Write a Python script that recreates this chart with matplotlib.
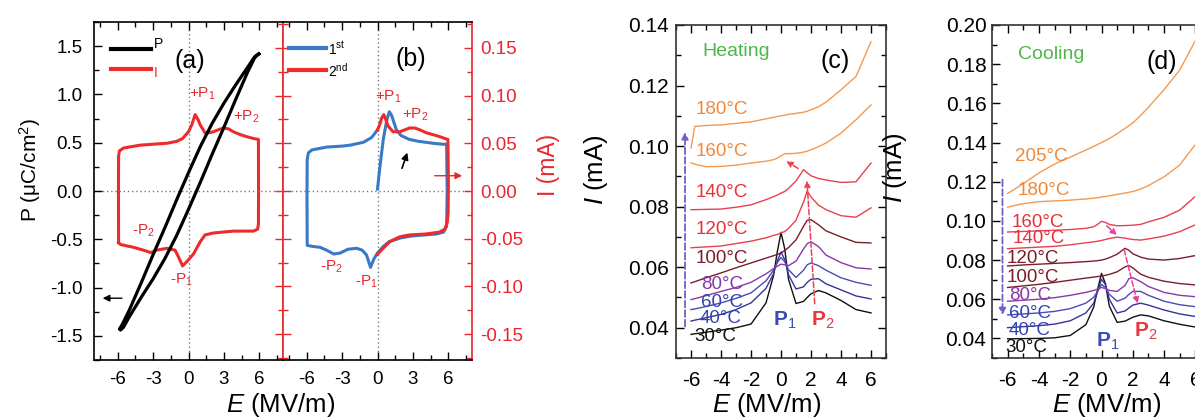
import numpy as np
import matplotlib
matplotlib.use("Agg")
import matplotlib.pyplot as plt
from matplotlib.ticker import MultipleLocator, NullFormatter

plt.rcParams['font.family'] = ['Liberation Sans', 'DejaVu Sans']
plt.rcParams['mathtext.fontset'] = 'custom'
plt.rcParams['mathtext.rm'] = 'Liberation Sans'
plt.rcParams['mathtext.it'] = 'Liberation Sans:italic'
plt.rcParams['mathtext.bf'] = 'Liberation Sans:bold'

# ---------------- data: panel (a) ----------------
P_E = [5.95, 5.6, 5.0, 4.0, 3.0, 2.0, 1.0, 0.0, -1.0, -2.0, -3.0, -4.0, -5.0, -5.6, -5.85,
       -5.75, -5.5, -5.0, -4.0, -3.0, -2.0, -1.0, 0.0, 1.0, 2.0, 3.0, 4.0, 5.0, 5.6, 5.95]
P_val = [1.42, 1.39, 1.28, 1.10, 0.91, 0.70, 0.46, 0.19, -0.09, -0.38, -0.66, -0.95, -1.23, -1.38, -1.43,
         -1.44, -1.41, -1.30, -1.10, -0.91, -0.70, -0.46, -0.19, 0.09, 0.38, 0.66, 0.95, 1.23, 1.38, 1.42]

Ia_E = [-5.92, -5.93, -5.92, -5.85, -5.5, -4.1, -3.0, -1.83, -1.0, -0.5, 0.0, 0.3, 0.56, 0.8, 1.0,
        1.4, 1.7, 2.1, 2.5, 2.96, 3.4, 3.8, 4.4, 4.9, 5.5, 5.92, 5.93, 5.92, 5.85, 5.5, 4.5, 3.8,
        2.1, 1.4, 1.0, 0.42, -0.14, -0.5, -0.85, -1.13, -1.83, -2.7, -3.2, -3.8, -4.65, -5.77, -5.92]
Ia_I = [-0.054, 0.0, 0.036, 0.042, 0.045, 0.048, 0.049, 0.050, 0.052, 0.055, 0.062, 0.070, 0.080, 0.075, 0.069,
        0.061, 0.061, 0.062, 0.064, 0.066, 0.065, 0.062, 0.059, 0.057, 0.055, 0.054, 0.0, -0.035, -0.040, -0.042, -0.042, -0.042,
        -0.044, -0.046, -0.053, -0.066, -0.074, -0.0785, -0.069, -0.062, -0.060, -0.062, -0.0645, -0.062, -0.059, -0.056, -0.054]

# ---------------- data: panel (b) ----------------
Ib1_E = [0.0, 0.2, 0.5, 0.8, 1.0, 1.2, 1.6, 2.0, 2.7, 3.5, 4.7, 5.5, 5.85, 5.9, 5.85, 5.6, 5.0, 4.0, 3.0,
         2.0, 1.0, 0.5, 0.0, -0.3, -0.59, -0.93, -1.3, -1.77, -2.5, -3.17, -3.7, -4.3, -4.86, -5.5, -5.95,
         -5.97, -5.95, -5.85, -5.56, -4.3, -3.0, -2.33, -1.2, -0.5, 0.0]
Ib1_I = [0.002, 0.025, 0.055, 0.075, 0.083, 0.079, 0.064, 0.058, 0.054, 0.052, 0.050, 0.049, 0.049, 0.0, -0.037,
         -0.043, -0.045, -0.046, -0.047, -0.049, -0.053, -0.058, -0.065, -0.071, -0.080, -0.067, -0.062, -0.060,
         -0.061, -0.065, -0.066, -0.062, -0.059, -0.058, -0.057, 0.0, 0.033, 0.040, 0.043, 0.046, 0.047, 0.048,
         0.051, 0.056, 0.064]
Ib2_E = [0.0, 0.2, 0.34, 0.53, 0.7, 0.9, 1.32, 1.88, 2.3, 2.72, 3.15, 3.6, 4.13, 4.7, 5.25, 5.7, 5.96, 6.0,
         5.98, 5.9, 5.7, 5.25, 4.13, 2.72, 1.88, 1.04, 0.48, 0.0]
Ib2_I = [0.064, 0.070, 0.076, 0.080, 0.075, 0.068, 0.062, 0.062, 0.064, 0.066, 0.066, 0.064, 0.061, 0.059,
         0.057, 0.055, 0.054, 0.010, -0.023, -0.033, -0.040, -0.043, -0.045, -0.046, -0.048, -0.053, -0.060, -0.066]

# ---------------- data: panels (c), (d) ----------------
E_grid = [-6, -5.75, -5, -4, -3, -2, -1, -0.5, -0.25, 0, 0.25, 0.5, 1, 1.5, 1.75, 2, 2.5, 3, 4, 5, 6]

c30 = [0.0378, 0.0380, 0.0385, 0.0392, 0.0400, 0.0412, 0.0482, 0.0572, 0.0650, 0.0715, 0.0660, 0.0560, 0.0480, 0.0487, 0.0500, 0.0512, 0.0523, 0.0515, 0.0490, 0.0460, 0.0449]
c40 = [0.0422, 0.0425, 0.0433, 0.0444, 0.0460, 0.0482, 0.0530, 0.0578, 0.0620, 0.0650, 0.0625, 0.0575, 0.0528, 0.0535, 0.0550, 0.0560, 0.0562, 0.0545, 0.0525, 0.0505, 0.0495]
c60 = [0.0460, 0.0462, 0.0470, 0.0482, 0.0497, 0.0515, 0.0555, 0.0590, 0.0615, 0.0632, 0.0618, 0.0592, 0.0566, 0.0590, 0.0608, 0.0614, 0.0605, 0.0590, 0.0565, 0.0550, 0.0540]
c80 = [0.0493, 0.0496, 0.0506, 0.0520, 0.0533, 0.0550, 0.0578, 0.0595, 0.0603, 0.0610, 0.0608, 0.0605, 0.0620, 0.0660, 0.0678, 0.0684, 0.0668, 0.0640, 0.0615, 0.0598, 0.0594]
c100 = [0.0548, 0.0552, 0.0565, 0.0581, 0.0598, 0.0614, 0.0630, 0.0638, 0.0642, 0.0647, 0.0655, 0.0665, 0.0690, 0.0735, 0.0755, 0.0757, 0.0740, 0.0720, 0.0700, 0.0682, 0.0680]
c120 = [0.0664, 0.0665, 0.0667, 0.0670, 0.0678, 0.0686, 0.0697, 0.0705, 0.0708, 0.0713, 0.0718, 0.0728, 0.0755, 0.0815, 0.0852, 0.0832, 0.0805, 0.0790, 0.0770, 0.0765, 0.0796]
c140 = [0.0790, 0.0790, 0.0791, 0.0792, 0.0798, 0.0806, 0.0823, 0.0833, 0.0838, 0.0845, 0.0850, 0.0860, 0.0885, 0.0922, 0.0912, 0.0902, 0.0893, 0.0888, 0.0880, 0.0882, 0.0944]
c160 = [0.0945, 0.0940, 0.0932, 0.0933, 0.0937, 0.0944, 0.0950, 0.0955, 0.0960, 0.0968, 0.0975, 0.0975, 0.0976, 0.0980, 0.0983, 0.0988, 0.0998, 0.1010, 0.1043, 0.1087, 0.1136]
c180 = [0.0993, 0.1065, 0.1068, 0.1070, 0.1075, 0.1080, 0.1090, 0.1095, 0.1098, 0.1100, 0.1102, 0.1105, 0.1108, 0.1112, 0.1115, 0.1120, 0.1130, 0.1145, 0.1186, 0.1230, 0.1345]

d30 = [0.0398, 0.0398, 0.0399, 0.0400, 0.0403, 0.0415, 0.0470, 0.0560, 0.0650, 0.0732, 0.0680, 0.0565, 0.0482, 0.0488, 0.0498, 0.0508, 0.0520, 0.0515, 0.0490, 0.0472, 0.0458]
d40 = [0.0455, 0.0456, 0.0460, 0.0465, 0.0473, 0.0490, 0.0530, 0.0580, 0.0640, 0.0702, 0.0675, 0.0600, 0.0530, 0.0540, 0.0555, 0.0570, 0.0580, 0.0570, 0.0545, 0.0525, 0.0512]
d60 = [0.0520, 0.0521, 0.0525, 0.0530, 0.0538, 0.0552, 0.0580, 0.0610, 0.0640, 0.0675, 0.0660, 0.0625, 0.0590, 0.0605, 0.0625, 0.0640, 0.0640, 0.0620, 0.0590, 0.0572, 0.0562]
d80 = [0.0590, 0.0591, 0.0595, 0.0600, 0.0608, 0.0620, 0.0635, 0.0645, 0.0652, 0.0660, 0.0655, 0.0645, 0.0640, 0.0670, 0.0705, 0.0710, 0.0690, 0.0665, 0.0635, 0.0620, 0.0613]
d100 = [0.0660, 0.0662, 0.0668, 0.0676, 0.0686, 0.0697, 0.0708, 0.0713, 0.0716, 0.0719, 0.0722, 0.0727, 0.0740, 0.0765, 0.0772, 0.0760, 0.0728, 0.0712, 0.0692, 0.0680, 0.0673]
d120 = [0.0770, 0.0771, 0.0775, 0.0779, 0.0783, 0.0787, 0.0792, 0.0795, 0.0797, 0.0800, 0.0805, 0.0812, 0.0830, 0.0860, 0.0850, 0.0832, 0.0815, 0.0805, 0.0800, 0.0808, 0.0823]
d140 = [0.0858, 0.0859, 0.0862, 0.0866, 0.0870, 0.0878, 0.0888, 0.0893, 0.0896, 0.0900, 0.0905, 0.0910, 0.0917, 0.0912, 0.0908, 0.0905, 0.0902, 0.0908, 0.0922, 0.0945, 0.0980]
d160 = [0.0943, 0.0944, 0.0946, 0.0949, 0.0952, 0.0956, 0.0962, 0.0970, 0.0982, 0.0998, 0.0992, 0.0982, 0.0975, 0.0976, 0.0977, 0.0978, 0.0982, 0.0995, 0.1018, 0.1055, 0.1125]
d180 = [0.1070, 0.1075, 0.1088, 0.1098, 0.1102, 0.1106, 0.1112, 0.1116, 0.1118, 0.1122, 0.1125, 0.1128, 0.1135, 0.1142, 0.1146, 0.1150, 0.1163, 0.1180, 0.1225, 0.1285, 0.1390]
d205 = [0.1140, 0.1152, 0.1190, 0.1245, 0.1290, 0.1325, 0.1362, 0.1380, 0.1390, 0.1400, 0.1410, 0.1420, 0.1445, 0.1472, 0.1486, 0.1500, 0.1538, 0.1580, 0.1670, 0.1770, 0.1920]

temps_c = ["30", "40", "60", "80", "100", "120", "140", "160", "180"]
temps_d = ["30", "40", "60", "80", "100", "120", "140", "160", "180", "205"]

# label positions (data coords)
lab_c_x = [-4.36, -4.03, -3.9, -3.92, -3.92, -3.92, -3.92, -3.92, -3.92]
lab_c_y = [0.0371, 0.0429, 0.0484, 0.0544, 0.0630, 0.0726, 0.0847, 0.0982, 0.1120]
lab_d_x = [-4.79, -4.57, -4.57, -4.57, -4.36, -4.36, -4.04, -4.04, -3.7, -3.83]
lab_d_y = [0.0355, 0.0441, 0.0526, 0.0620, 0.0713, 0.0807, 0.0909, 0.0994, 0.1156, 0.1327]

# ---------------- styling ----------------
BLACK = '#111111'
BLUE_D = '#34349a'
BLUE = '#4a4ab8'
PURPLE = '#8a38a8'
MAROON = '#7a1e2a'
RED = '#e8404c'
ORANGE = '#f49a50'
LAB_ORANGE = '#f0883a'
LAB_RED = '#e8303a'
LAB_BLUE = '#3545b0'
GREEN = '#4cb848'
AXRED = '#e8262e'

col_c = [BLACK, BLUE_D, BLUE, PURPLE, MAROON, RED, RED, ORANGE, ORANGE]
labcol_c = [BLACK, LAB_BLUE, LAB_BLUE, PURPLE, MAROON, LAB_RED, LAB_RED, LAB_ORANGE, LAB_ORANGE]
col_d = [BLACK, BLUE_D, BLUE, PURPLE, MAROON, MAROON, RED, RED, ORANGE, ORANGE]
labcol_d = [BLACK, LAB_BLUE, LAB_BLUE, PURPLE, MAROON, MAROON, LAB_RED, LAB_RED, LAB_ORANGE, LAB_ORANGE]

W, H = 1195, 420
fig = plt.figure(figsize=(W / 100, H / 100), dpi=100)


def rect(l, r, t, b):
    return [l / W, (H - b) / H, (r - l) / W, (b - t) / H]


def base_ticks(ax, pad, size):
    ax.tick_params(which='both', direction='in', width=1.0)
    ax.tick_params(which='major', length=6, pad=pad, labelsize=size)
    ax.tick_params(which='minor', length=3.5)
    for s in ax.spines.values():
        s.set_linewidth(1.2)


# ---------------- panel (a) ----------------
ax_a = fig.add_axes(rect(94, 283, 22, 360))
ax_a.set_xlim(-8, 8)
ax_a.set_ylim(-1.75, 1.75)
ax_a.xaxis.set_major_locator(MultipleLocator(3))
ax_a.xaxis.set_minor_locator(MultipleLocator(1.5))
ax_a.yaxis.set_major_locator(MultipleLocator(0.5))
ax_a.yaxis.set_minor_locator(MultipleLocator(0.25))
base_ticks(ax_a, 8, 13.5)
ax_a.tick_params(which='both', top=True, right=False)
ax_a.set_yticks([-1.5, -1.0, -0.5, 0.0, 0.5, 1.0, 1.5])
ax_a.set_yticklabels(['-1.5', '-1.0', '-0.5', '0.0', '0.5', '1.0', '1.5'])
ax_a.set_xticks([-6, -3, 0, 3, 6])
ax_a.set_xticklabels(['-6', '-3', '0', '3', '6'])
ax_a.spines['right'].set_visible(False)
ax_a.axhline(0, color='#777777', ls=(0, (1, 2)), lw=1.0, zorder=1)
ax_a.axvline(0, color='#777777', ls=(0, (1, 2)), lw=1.0, zorder=1)

ax_a2 = ax_a.twinx()
ax_a2.set_ylim(-0.177, 0.177)
ax_a2.yaxis.set_major_locator(MultipleLocator(0.05))
ax_a2.yaxis.set_minor_locator(MultipleLocator(0.025))
base_ticks(ax_a2, 6, 13.5)
ax_a2.tick_params(which='both', colors=AXRED, labelright=False)
for k in ['left', 'top', 'bottom']:
    ax_a2.spines[k].set_visible(False)
ax_a2.spines['right'].set_color(AXRED)

ax_a2.plot(Ia_E, Ia_I, color='#ee2a2a', lw=2.2, solid_joinstyle='round', zorder=3, label='I')
ax_a.plot(P_E, P_val, color='black', lw=2.3, solid_joinstyle='round', zorder=4, label='P')
ax_a.set_zorder(ax_a2.get_zorder() + 1)
ax_a.patch.set_visible(False)

ax_a.annotate('', xy=(-7.5, -1.11), xytext=(-5.4, -1.11),
              arrowprops=dict(arrowstyle='-|>', color='black', lw=1.0, mutation_scale=10))

# legend in (a)
ax_a.plot([-6.6, -3.2], [1.47, 1.47], color='black', lw=3, clip_on=False)
ax_a.plot([-6.6, -3.2], [1.26, 1.26], color='#ee2a2a', lw=3, clip_on=False)
ax_a.text(-2.9, 1.52, 'P', fontsize=10, ha='left', va='center')
ax_a.text(-2.9, 1.22, 'I', fontsize=10, ha='left', va='center', color='#ee2a2a')
ax_a.text(0.1, 1.35, '(a)', fontsize=18, ha='center', va='center')

for s, x, y in [('+P$_1$', 1.2, 0.102), ('+P$_2$', 4.9, 0.078), ('-P$_2$', -3.8, -0.042), ('-P$_1$', -0.6, -0.093)]:
    ax_a2.text(x, y, s, color=AXRED, fontsize=11, ha='center', va='center', zorder=6)

# ---------------- panel (b) ----------------
ax_b = fig.add_axes(rect(283, 472, 22, 360))
ax_b.set_xlim(-8, 8)
ax_b.set_ylim(-0.177, 0.177)
ax_b.xaxis.set_major_locator(MultipleLocator(3))
ax_b.xaxis.set_minor_locator(MultipleLocator(1.5))
ax_b.yaxis.set_major_locator(MultipleLocator(0.05))
ax_b.yaxis.set_minor_locator(MultipleLocator(0.025))
base_ticks(ax_b, 6, 13.5)
ax_b.tick_params(which='both', top=True, right=True, left=True, labelleft=False, labelright=True)
ax_b.tick_params(axis='x', pad=8)
ax_b.tick_params(axis='y', which='both', colors=AXRED)
ax_b.set_xticks([-6, -3, 0, 3, 6])
ax_b.set_xticklabels(['-6', '-3', '0', '3', '6'])
ax_b.set_yticks([-0.15, -0.10, -0.05, 0.0, 0.05, 0.10, 0.15])
ax_b.set_yticklabels(['-0.15', '-0.10', '-0.05', '0.00', '0.05', '0.10', '0.15'])
ax_b.spines['left'].set_color(AXRED)
ax_b.spines['right'].set_color(AXRED)
ax_b.axhline(0, color='#777777', ls=(0, (1, 2)), lw=1.0, zorder=1)
ax_b.axvline(0, color='#777777', ls=(0, (1, 2)), lw=1.0, zorder=1)
ax_b.plot(Ib1_E, Ib1_I, color='#3a78c8', lw=2.2, solid_joinstyle='round', zorder=3)
ax_b.plot(Ib2_E, Ib2_I, color='#ee2a2a', lw=2.2, solid_joinstyle='round', zorder=4)

ax_b.plot([-7.5, -4.4], [0.150, 0.150], color='#3a78c8', lw=3, clip_on=False)
ax_b.plot([-7.5, -4.4], [0.127, 0.127], color='#ee2a2a', lw=3, clip_on=False)
ax_b.text(-4.2, 0.149, '1$^{\\rm st}$', fontsize=10, ha='left', va='center')
ax_b.text(-4.2, 0.126, '2$^{\\rm nd}$', fontsize=10, ha='left', va='center')
ax_b.text(2.8, 0.138, '(b)', fontsize=18, ha='center', va='center')

for s, x, y in [('+P$_1$', 0.9, 0.099), ('+P$_2$', 3.2, 0.080), ('-P$_2$', -3.9, -0.079), ('-P$_1$', -0.95, -0.095)]:
    ax_b.text(x, y, s, color=AXRED, fontsize=11, ha='center', va='center', zorder=6)
ax_b.annotate('', xy=(2.6, 0.043), xytext=(2.0, 0.021),
              arrowprops=dict(arrowstyle='-|>', color='black', lw=1.2, mutation_scale=10))
ax_b.annotate('', xy=(7.4, 0.016), xytext=(4.6, 0.016),
              arrowprops=dict(arrowstyle='-|>', color=AXRED, lw=1.0, mutation_scale=10))

fig.text(30 / W, 1 - 170 / H, 'P (μC/cm$^2$)', rotation=90, fontsize=15, ha='center', va='center')
fig.text(548 / W, 1 - 165 / H, 'I (mA)', rotation=90, fontsize=16.5, ha='center', va='center', color=AXRED)
fig.text(281 / W, 1 - 405 / H, '$E$ (MV/m)', fontsize=18.5, ha='center', va='center')


# ---------------- panels (c), (d) ----------------
def temp_panel(r, ylim, ymaj, series, cols, labcols, temps, lx, ly, pad_y):
    ax = fig.add_axes(r)
    ax.set_xlim(-7, 7)
    ax.set_ylim(*ylim)
    ax.xaxis.set_major_locator(MultipleLocator(2))
    ax.xaxis.set_minor_locator(MultipleLocator(1))
    ax.yaxis.set_major_locator(MultipleLocator(ymaj))
    ax.yaxis.set_minor_locator(MultipleLocator(ymaj / 2))
    base_ticks(ax, pad_y, 15)
    ax.tick_params(which='both', top=True, right=True)
    ax.tick_params(axis='x', pad=9)
    ax.set_xticks([-6, -4, -2, 0, 2, 4, 6])
    ax.set_xticklabels(['-6', '-4', '-2', '0', '2', '4', '6'])
    for s in ax.spines.values():
        s.set_color('#333333')
    for yv, c in zip(series, cols):
        ax.plot(E_grid, yv, color=c, lw=1.0)
    for t, x, y, c in zip(temps, lx, ly, labcols):
        ax.text(x, y, t + '°C', color=c, fontsize=13.5, ha='center', va='center')
    return ax


ax_c = temp_panel(rect(676, 886, 25, 358), (0.03, 0.14), 0.02,
                  [c30, c40, c60, c80, c100, c120, c140, c160, c180],
                  col_c, labcol_c, temps_c, lab_c_x, lab_c_y, 5)
ax_c.set_yticks([0.04, 0.06, 0.08, 0.10, 0.12, 0.14])
ax_c.set_yticklabels(['0.04', '0.06', '0.08', '0.10', '0.12', '0.14'])
ax_c.text(-3.0, 0.1312, 'Heating', color=GREEN, fontsize=14, ha='center', va='center')
ax_c.text(3.6, 0.128, '(c)', fontsize=18, ha='center', va='center')
ax_c.text(0.25, 0.0425, 'P$_1$', color='#3a4cb8', fontsize=15, fontweight='bold', ha='center', va='center')
ax_c.text(2.8, 0.0425, 'P$_2$', color='#e8373f', fontsize=15, fontweight='bold', ha='center', va='center')
ax_c.annotate('', xy=(-6.4, 0.1055), xytext=(-6.4, 0.0395),
              arrowprops=dict(arrowstyle='-|>', color='#7a5cc8', lw=1.3, ls='--', mutation_scale=10))
ax_c.annotate('', xy=(1.72, 0.0895), xytext=(2.26, 0.047),
              arrowprops=dict(arrowstyle='-|>', color='#f04050', lw=1.1, ls='--', mutation_scale=9))
ax_c.annotate('', xy=(0.2, 0.0955), xytext=(1.3, 0.0921),
              arrowprops=dict(arrowstyle='-|>', color='#f04050', lw=1.1, ls='--', mutation_scale=9))

ax_d = temp_panel(rect(992, 1211, 25, 358), (0.03, 0.20), 0.02,
                  [d30, d40, d60, d80, d100, d120, d140, d160, d180, d205],
                  col_d, labcol_d, temps_d, lab_d_x, lab_d_y, 4)
ax_d.set_yticks([0.04, 0.06, 0.08, 0.10, 0.12, 0.14, 0.16, 0.18, 0.20])
ax_d.set_yticklabels(['0.04', '0.06', '0.08', '0.10', '0.12', '0.14', '0.16', '0.18', '0.20'])
ax_d.text(-3.2, 0.1847, 'Cooling', color=GREEN, fontsize=14, ha='center', va='center')
ax_d.text(3.85, 0.1812, '(d)', fontsize=18, ha='center', va='center')
ax_d.text(0.4, 0.0385, 'P$_1$', color='#3a4cb8', fontsize=15, fontweight='bold', ha='center', va='center')
ax_d.text(2.85, 0.0435, 'P$_2$', color='#e8373f', fontsize=15, fontweight='bold', ha='center', va='center')
ax_d.annotate('', xy=(-6.33, 0.0505), xytext=(-6.33, 0.1225),
              arrowprops=dict(arrowstyle='-|>', color='#7a5cc8', lw=1.3, ls='--', mutation_scale=10))
ax_d.annotate('', xy=(1.1, 0.0918), xytext=(0.2, 0.0985),
              arrowprops=dict(arrowstyle='-|>', color='#e8409a', lw=1.1, ls='--', mutation_scale=9))
ax_d.annotate('', xy=(2.35, 0.0565), xytext=(1.4, 0.0868),
              arrowprops=dict(arrowstyle='-|>', color='#e8409a', lw=1.1, ls='--', mutation_scale=9))

fig.text(596 / W, 1 - 170 / H, '$I$ (mA)', rotation=90, fontsize=18.5, ha='center', va='center')
fig.text(767 / W, 1 - 405 / H, '$E$ (MV/m)', fontsize=18.5, ha='center', va='center')
fig.text(895 / W, 1 - 168 / H, '$I$ (mA)', rotation=90, fontsize=18.5, ha='center', va='center')
fig.text(1107 / W, 1 - 405 / H, '$E$ (MV/m)', fontsize=18.5, ha='center', va='center')

fig.savefig('out.png', dpi=100)
